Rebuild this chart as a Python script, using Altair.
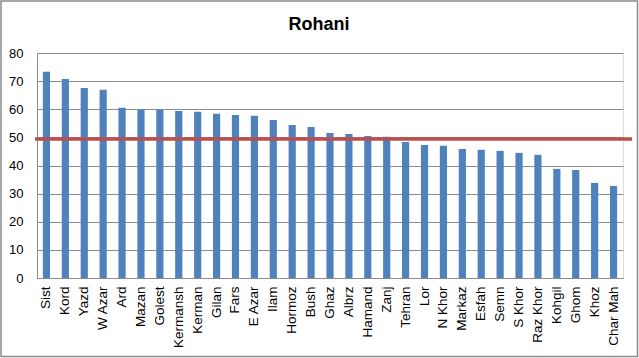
import altair as alt
import pandas as pd

provinces = ["Sist", "Kord", "Yazd", "W Azar", "Ard", "Mazan", "Golest", "Kermansh",
             "Kerman", "Gilan", "Fars", "E Azar", "Ilam", "Hormoz", "Bush", "Ghaz",
             "Albrz", "Hamand", "Zanj", "Tehran", "Lor", "N Khor", "Markaz", "Esfah",
             "Semn", "S Khor", "Raz Khor", "Kohgil", "Ghom", "Khoz", "Char Mah"]
rohani = [73.3, 70.8, 67.6, 66.9, 60.5, 59.9, 59.9, 59.4,
          59.1, 58.4, 58.0, 57.7, 56.2, 54.4, 53.7, 51.6,
          51.2, 50.5, 50.2, 48.4, 47.3, 47.0, 45.9, 45.6,
          45.2, 44.5, 43.8, 38.8, 38.4, 33.8, 32.7]
threshold = [49.4]
y_ticks = [0, 10, 20, 30, 40, 50, 60, 70, 80]
title_text = "Rohani"

df = pd.DataFrame({"province": provinces, "value": rohani})
df_line = pd.DataFrame({"value": threshold})

FONT = "Liberation Sans"
yscale = alt.Scale(domain=[0, 80], nice=False)
yaxis = alt.Axis(values=y_ticks, labelOverlap=False,
                 ticks=False, labelPadding=14,
                 grid=True, gridColor="#8C8C8C", gridWidth=1,
                 domainColor="#8C8C8C", labelFont=FONT, labelFontSize=13,
                 labelColor="#000000")

bars = alt.Chart(df).mark_bar(color="#4F81BD").encode(
    x=alt.X("province:N", sort=provinces, title=None,
            scale=alt.Scale(paddingInner=0.62, paddingOuter=0.31),
            axis=alt.Axis(labelAngle=-90, labelAlign="right", labelBaseline="middle",
                          labelPadding=8, ticks=False, domainColor="#8C8C8C",
                          labelFont=FONT, labelFontSize=13.5, labelColor="#000000")),
    y=alt.Y("value:Q", title=None, scale=yscale, axis=yaxis),
)

redline = alt.Chart(df_line).mark_rule(color="#BC4F4C", strokeWidth=3.5).encode(
    y=alt.Y("value:Q", title=None, scale=yscale, axis=yaxis),
    x=alt.value(-2),
    x2=alt.value(595),
)

border = alt.Chart(df_line).mark_rect(fill=None, stroke="#8A8A8A", strokeWidth=1.5).encode(
    x=alt.value(-36),
    x2=alt.value(600.5),
    y=alt.value(-52),
    y2=alt.value(303.5),
)

title = alt.Chart(df_line).mark_text(
    font=FONT, fontSize=18, fontWeight="bold", color="#000000",
    align="center", baseline="alphabetic",
).encode(
    text=alt.value(title_text),
    x=alt.value(282),
    y=alt.value(-23),
)

chart = alt.layer(bars, redline, border, title).properties(
    width=586,
    height=225,
    padding={"left": 37, "top": 53, "right": 16, "bottom": 80},
    autosize=alt.AutoSizeParams(type="none"),
).configure_view(stroke=None).configure(background="#FFFFFF")

chart.save("out.html", embed_options={"renderer": "svg", "actions": False})
